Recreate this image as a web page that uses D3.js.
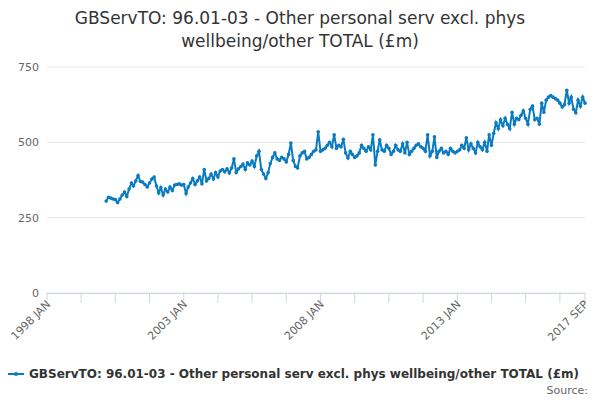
<!DOCTYPE html>
<html><head><meta charset="utf-8">
<script src="https://cdn.jsdelivr.net/npm/d3@7"></script>
<style>body{margin:0;background:#fff}svg{font-family:"DejaVu Sans",sans-serif}</style>
</head><body><svg id="c" width="600" height="400"></svg>
<script>
const titleLines = ["GBServTO: 96.01-03 - Other personal serv excl. phys", "wellbeing/other TOTAL (£m)"];
const seriesName = "GBServTO: 96.01-03 - Other personal serv excl. phys wellbeing/other TOTAL (£m)";
const firstMonth = [2000, 2]; // 2000 MAR
const values = [
  305,318,315,312,310,300,312,325,335,320,
  345,365,355,372,390,370,368,360,352,365,378,385,
  355,332,350,325,345,335,352,340,358,360,362,358,
  360,330,352,365,380,360,372,385,362,410,372,380,
  395,378,400,385,405,410,402,412,398,415,445,400,
  412,420,428,410,432,425,438,420,455,470,410,395,
  380,400,430,450,465,445,440,450,445,435,460,498,
  440,420,415,455,465,470,445,450,460,470,475,535,
  470,475,480,490,500,485,525,480,490,485,510,465,
  448,470,460,450,455,465,490,480,470,485,475,525,
  425,470,508,475,470,490,480,460,470,490,475,470,
  495,465,500,460,470,480,490,495,485,480,470,525,
  455,470,518,450,470,480,465,470,460,480,470,465,
  470,475,490,480,515,475,495,480,465,500,485,475,
  500,470,525,490,530,565,545,575,555,580,560,545,
  600,560,580,575,590,605,580,560,610,620,575,580,
  560,630,600,640,650,655,650,645,640,630,617,625,
  673,630,650,610,598,640,620,650,630
];
const yTicks = [0, 250, 500, 750];
const xStart = new Date(1998, 0, 1), xEnd = new Date(2017, 8, 1);
const months = ["JAN","FEB","MAR","APR","MAY","JUN","JUL","AUG","SEP","OCT","NOV","DEC"];

const data = values.map((v, i) => ({ date: new Date(firstMonth[0], firstMonth[1] + i, 1), v }));
const svg = d3.select("#c");
const m = { left: 47, right: 15, top: 67, bottom: 107 };
const W = 600, H = 400;
const x = d3.scaleTime().domain([xStart, xEnd]).range([m.left, W - m.right]);
const y = d3.scaleLinear().domain([0, 750]).range([H - m.bottom, m.top]);

svg.selectAll("text.title").data(titleLines).join("text")
  .attr("x", 300).attr("y", (d, i) => 24 + i * 23).attr("text-anchor", "middle")
  .style("font-size", "17px").style("fill", "#333").text(d => d);

svg.append("g").selectAll("line").data(yTicks).join("line")
  .attr("x1", m.left).attr("x2", W - m.right).attr("y1", d => y(d)).attr("y2", d => y(d))
  .attr("stroke", "#e6e6e6");
svg.append("g").selectAll("text").data(yTicks).join("text")
  .attr("x", m.left - 8).attr("y", d => y(d) + 4).attr("text-anchor", "end")
  .style("font-size", "11px").style("fill", "#666").text(d => d);

// category ticks every 15 months, plus the final month
const xTicks = [];
for (let i = 0; ; i += 15) { const d = new Date(1998, i, 1); if (d > xEnd) break; xTicks.push(d); }
xTicks.push(xEnd);
svg.append("line").attr("x1", m.left).attr("x2", W - m.right)
  .attr("y1", y(0) + 0.5).attr("y2", y(0) + 0.5).attr("stroke", "#ccd6eb");
svg.append("g").selectAll("line").data(xTicks).join("line")
  .attr("x1", d => x(d)).attr("x2", d => x(d)).attr("y1", y(0)).attr("y2", y(0) + 10)
  .attr("stroke", "#ccd6eb");
const labelled = xTicks.filter((d, i) => i % 4 === 0 || d === xEnd);
svg.append("g").selectAll("text").data(labelled).join("text")
  .attr("transform", d => `translate(${x(d) + 4},${y(0) + 12}) rotate(-45)`)
  .attr("text-anchor", "end").style("font-size", "11px").style("fill", "#666")
  .text(d => d.getFullYear() + " " + months[d.getMonth()]);

const line = d3.line().x(d => x(d.date)).y(d => y(d.v));
svg.append("path").datum(data).attr("d", line).attr("fill", "none")
  .attr("stroke", "#0a7bc1").attr("stroke-width", 2);
svg.append("g").selectAll("circle").data(data).join("circle")
  .attr("cx", d => x(d.date)).attr("cy", d => y(d.v)).attr("r", 1.8).attr("fill", "#0a7bc1");

const lg = svg.append("g").attr("transform", "translate(8,374)");
lg.append("line").attr("x1", 0).attr("x2", 16).attr("stroke", "#0a7bc1").attr("stroke-width", 2);
lg.append("circle").attr("cx", 8).attr("r", 2).attr("fill", "#0a7bc1");
lg.append("text").attr("x", 21).attr("y", 4).style("font-size", "12px").style("font-weight", "bold")
  .style("fill", "#333").text(seriesName);
svg.append("text").attr("x", 588).attr("y", 394).attr("text-anchor", "end")
  .style("font-size", "11px").style("fill", "#666").text("Source:");
</script></body></html>
